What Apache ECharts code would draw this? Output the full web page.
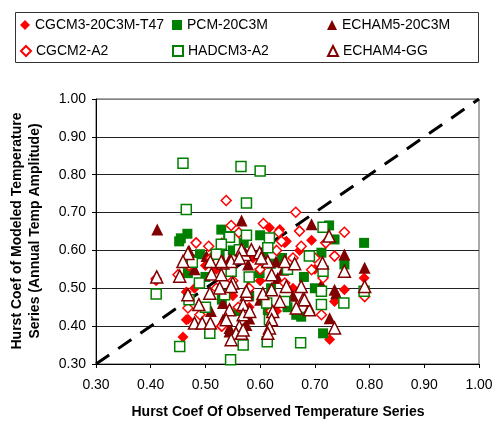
<!DOCTYPE html>
<html><head><meta charset="utf-8">
<script src="https://cdn.jsdelivr.net/npm/echarts@6/dist/echarts.min.js"></script>
<style>html,body{margin:0;padding:0;background:#fff}#c{width:496px;height:426px}</style>
</head><body><div id="c"></div>
<script>
var seriesNames = ['CGCM3-20C3M-T47','PCM-20C3M','ECHAM5-20C3M','CGCM2-A2','HADCM3-A2','ECHAM4-GG'];
var axisTicks = [0.30,0.40,0.50,0.60,0.70,0.80,0.90,1.00];
var xTitle = 'Hurst Coef Of Observed Temperature Series';
var yTitle1 = 'Hurst Coef of Modeled Temperature';
var yTitle2 = 'Series (Annual Temp Amplitude)';

var cgcm3 = [[0.617,0.66],[0.645,0.62],[0.694,0.627],[0.636,0.655],[0.648,0.624],[0.587,0.58],[0.468,0.418],[0.529,0.399],[0.459,0.371],[0.465,0.417],[0.754,0.496],[0.79,0.527],[0.736,0.465],[0.727,0.365],[0.41,0.52],[0.55,0.48],[0.60,0.52],[0.52,0.55],[0.66,0.50],[0.58,0.45],[0.50,0.56],[0.63,0.44],[0.56,0.59],[0.70,0.55],[0.48,0.50],[0.53,0.62],[0.61,0.47],[0.465,0.49],[0.672,0.60]];
var pcm = [[0.455,0.632],[0.467,0.644],[0.452,0.624],[0.529,0.655],[0.468,0.54],[0.726,0.666],[0.736,0.629],[0.79,0.62],[0.712,0.594],[0.754,0.563],[0.599,0.54],[0.614,0.443],[0.666,0.43],[0.675,0.425],[0.715,0.381],[0.60,0.64],[0.605,0.59],[0.474,0.576],[0.526,0.589],[0.55,0.60],[0.58,0.48],[0.64,0.58],[0.50,0.53],[0.62,0.50],[0.56,0.44],[0.68,0.53],[0.53,0.47],[0.57,0.62],[0.65,0.45],[0.70,0.50],[0.49,0.59],[0.62,0.565]];
var echam5 = [[0.412,0.655],[0.566,0.679],[0.694,0.669],[0.502,0.585],[0.532,0.461],[0.532,0.417],[0.544,0.395],[0.575,0.403],[0.544,0.386],[0.629,0.571],[0.642,0.549],[0.754,0.589],[0.791,0.554],[0.739,0.487],[0.727,0.421],[0.544,0.576],[0.578,0.563],[0.578,0.505],[0.632,0.527],[0.712,0.51],[0.736,0.496],[0.47,0.60],[0.60,0.47],[0.66,0.48],[0.51,0.44],[0.58,0.42],[0.69,0.45],[0.48,0.55]];
var cgcm2 = [[0.538,0.732],[0.547,0.666],[0.483,0.62],[0.506,0.611],[0.561,0.647],[0.665,0.701],[0.606,0.671],[0.634,0.648],[0.754,0.648],[0.675,0.611],[0.639,0.624],[0.672,0.651],[0.468,0.448],[0.736,0.585],[0.694,0.549],[0.645,0.514],[0.791,0.478],[0.712,0.43],[0.715,0.527],[0.41,0.525],[0.47,0.56],[0.52,0.50],[0.49,0.43],[0.55,0.52],[0.60,0.55],[0.58,0.50],[0.51,0.58],[0.63,0.60],[0.56,0.45],[0.62,0.44],[0.70,0.58],[0.45,0.536],[0.53,0.40],[0.66,0.58],[0.72,0.62]];
var hadcm3 = [[0.459,0.83],[0.565,0.822],[0.60,0.81],[0.575,0.725],[0.465,0.708],[0.543,0.636],[0.575,0.64],[0.715,0.661],[0.617,0.633],[0.544,0.635],[0.614,0.607],[0.476,0.569],[0.529,0.616],[0.562,0.602],[0.547,0.545],[0.489,0.514],[0.41,0.485],[0.508,0.381],[0.453,0.346],[0.569,0.35],[0.546,0.311],[0.612,0.461],[0.645,0.465],[0.613,0.359],[0.674,0.356],[0.535,0.483],[0.69,0.585],[0.712,0.457],[0.617,0.417],[0.715,0.545],[0.712,0.492],[0.79,0.492],[0.753,0.461],[0.50,0.45],[0.58,0.53],[0.65,0.55],[0.52,0.59],[0.47,0.47]];
var echam4 = [[0.726,0.638],[0.468,0.592],[0.459,0.571],[0.509,0.571],[0.532,0.567],[0.547,0.571],[0.573,0.589],[0.584,0.602],[0.511,0.538],[0.453,0.532],[0.411,0.53],[0.526,0.501],[0.55,0.514],[0.508,0.487],[0.468,0.483],[0.488,0.457],[0.544,0.443],[0.575,0.483],[0.569,0.457],[0.569,0.43],[0.581,0.439],[0.48,0.408],[0.494,0.408],[0.509,0.408],[0.562,0.399],[0.556,0.381],[0.547,0.364],[0.538,0.417],[0.566,0.381],[0.605,0.486],[0.636,0.465],[0.623,0.439],[0.621,0.417],[0.617,0.395],[0.614,0.381],[0.678,0.47],[0.69,0.443],[0.599,0.594],[0.614,0.571],[0.645,0.571],[0.663,0.565],[0.714,0.567],[0.754,0.545],[0.791,0.505],[0.621,0.536],[0.675,0.505],[0.575,0.492],[0.621,0.496],[0.681,0.47],[0.666,0.448],[0.736,0.395],[0.569,0.39],[0.566,0.602],[0.562,0.58],[0.529,0.571],[0.602,0.58],[0.529,0.536],[0.547,0.505],[0.648,0.505]];
var refLine = [[0.30,0.30],[1.00,1.00]];

var FONT = '"Liberation Sans", Arial, sans-serif';
var RED = '#FF0000', GREEN = '#008000', DRED = '#800000';

function filled(name, data, symbol, size, color) {
  return {name:name, type:'scatter', data:data, symbol:symbol, symbolSize:size,
    itemStyle:{color:color, opacity:1}, emphasis:{disabled:true}, animation:false};
}
function open(name, data, symbol, size, color) {
  return {name:name, type:'scatter', data:data, symbol:symbol, symbolSize:size,
    itemStyle:{color:'#fff', borderColor:color, borderWidth:1.5, opacity:1}, emphasis:{disabled:true}, animation:false};
}

var legendPos = [[20,18],[172,18],[327,18],[20,44],[172,44],[327,44]];
var legends = seriesNames.map(function(n,i){
  return {data:[n], left:legendPos[i][0], top:legendPos[i][1], padding:0, itemWidth:10, itemHeight:10, itemGap:5,
    selectedMode:false, textStyle:{fontSize:14, fontFamily:FONT, color:'#000'}};
});

var gridColors = ['#000','#222','#222','#222','#222','#222','#222','#808080'];

var chart = echarts.init(document.getElementById('c'), null, {renderer:'canvas'});
chart.setOption({
  animation:false,
  backgroundColor:'#fff',
  legend:legends,
  grid:{left:96, right:17, top:99, bottom:62, show:true, borderColor:'#555', borderWidth:1, backgroundColor:'transparent'},
  xAxis:{type:'value', min:axisTicks[0], max:axisTicks[axisTicks.length-1], interval:0.1,
    axisLine:{show:true, onZero:false, lineStyle:{color:'#000', width:1}},
    axisTick:{show:true, length:4, inside:false, lineStyle:{color:'#000'}},
    axisLabel:{margin:14, fontSize:14, fontFamily:FONT, color:'#000', formatter:function(v){return v.toFixed(2);}},
    splitLine:{show:false}},
  yAxis:{type:'value', min:axisTicks[0], max:axisTicks[axisTicks.length-1], interval:0.1,
    axisLine:{show:true, onZero:false, lineStyle:{color:'#000', width:1}},
    axisTick:{show:true, length:4, lineStyle:{color:'#000'}},
    axisLabel:{margin:10, fontSize:14, fontFamily:FONT, color:'#000', formatter:function(v){return v.toFixed(2);}},
    splitLine:{show:true, lineStyle:{color:gridColors, width:1}}},
  graphic:[
    {type:'rect', shape:{x:15.5, y:12.5, width:463, height:50}, style:{fill:'none', stroke:'#333', lineWidth:1}, z:-1},
    {type:'text', x:278, y:412, style:{text:xTitle, font:'bold 14px '+FONT, fill:'#000', textAlign:'center', textVerticalAlign:'middle'}},
    {type:'text', x:17, y:231, rotation:Math.PI/2, style:{text:yTitle1, font:'bold 14px '+FONT, fill:'#000', textAlign:'center', textVerticalAlign:'middle'}},
    {type:'text', x:35, y:231, rotation:Math.PI/2, style:{text:yTitle2, font:'bold 14px '+FONT, fill:'#000', textAlign:'center', textVerticalAlign:'middle'}}
  ],
  series:[
    filled(seriesNames[0], cgcm3, 'diamond', 11, RED),
    filled(seriesNames[1], pcm, 'rect', 10, GREEN),
    filled(seriesNames[2], echam5, 'triangle', 12, DRED),
    open(seriesNames[3], cgcm2, 'diamond', 10, RED),
    open(seriesNames[4], hadcm3, 'rect', 10, GREEN),
    open(seriesNames[5], echam4, 'triangle', 12, DRED),
    {type:'line', data:refLine, symbol:'none', silent:true, z:1, animation:false,
      lineStyle:{color:'#000', width:3, type:[16,11]}}
  ]
});
</script>
</body></html>
